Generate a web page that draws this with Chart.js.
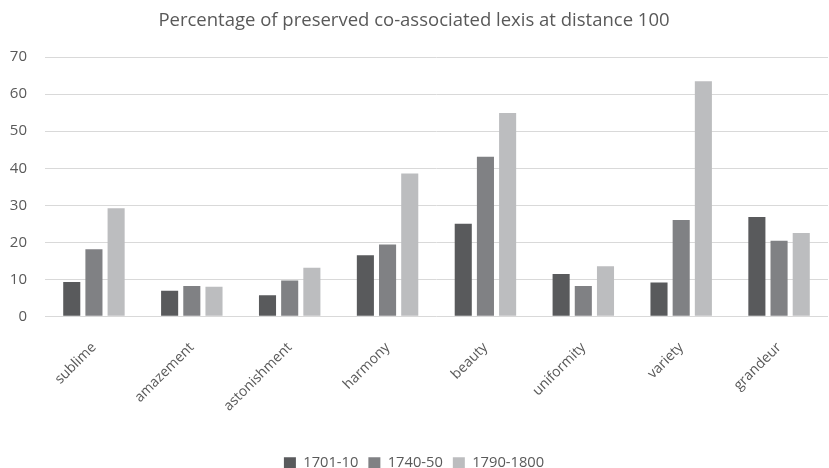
<!DOCTYPE html>
<html>
<head>
<meta charset="utf-8">
<script src="https://cdn.jsdelivr.net/npm/chart.js@4.4.1/dist/chart.umd.min.js"></script>
<style>
  html, body { margin: 0; padding: 0; background: #ffffff; }
  #wrap { width: 829px; height: 468px; position: relative; }
</style>
</head>
<body>
<div id="wrap"><canvas id="chart" width="829" height="468"></canvas></div>
<script>
// Lexical categories along the x axis
const categories = ['sublime', 'amazement', 'astonishment', 'harmony', 'beauty', 'uniformity', 'variety', 'grandeur'];

// Percentage of preserved co-associated lexis, one array per period
const period1701 = [9.3, 6.9, 5.7, 16.5, 25.0, 11.4, 9.1, 26.8];
const period1740 = [18.1, 8.2, 9.7, 19.4, 43.1, 8.2, 26.0, 20.4];
const period1790 = [29.2, 8.0, 13.1, 38.6, 54.9, 13.5, 63.5, 22.5];

const seriesLabels = ['1701-10', '1740-50', '1790-1800'];

// Value axis ticks
const yTicks = [0, 10, 20, 30, 40, 50, 60, 70];

const titleText = 'Percentage of preserved co-associated lexis at distance 100';

const FONT = "'Open Sans', 'Liberation Sans', sans-serif";
const TEXT = '#595959';

const ctx = document.getElementById('chart').getContext('2d');
new Chart(ctx, {
  type: 'bar',
  data: {
    labels: categories,
    datasets: [
      { label: seriesLabels[0], data: period1701, backgroundColor: '#595a5c' },
      { label: seriesLabels[1], data: period1740, backgroundColor: '#808184' },
      { label: seriesLabels[2], data: period1790, backgroundColor: '#bcbdbf' }
    ].map(d => Object.assign(d, {
      borderWidth: 0,
      barPercentage: 0.77,
      categoryPercentage: 0.68
    }))
  },
  options: {
    responsive: false,
    animation: false,
    layout: { padding: { left: 0, right: 1, top: 0, bottom: -12 } },
    plugins: {
      title: {
        display: true,
        text: titleText,
        color: TEXT,
        font: { family: FONT, size: 18.5, weight: 'normal' },
        padding: { top: 10, bottom: 25 }
      },
      legend: {
        position: 'bottom',
        labels: {
          color: TEXT,
          font: { family: FONT, size: 14.7 },
          boxWidth: 12,
          boxHeight: 11,
          padding: 10
        }
      },
      tooltip: { enabled: false }
    },
    scales: {
      x: {
        grid: { display: false, drawTicks: false },
        border: { display: false },
        ticks: {
          color: TEXT,
          font: { family: FONT, size: 14 },
          minRotation: 45,
          maxRotation: 45,
          padding: 23
        },
        afterFit(scale) { scale.height = 129; }
      },
      y: {
        min: 0,
        max: 70,
        grid: { color: '#d9d9d9', lineWidth: 1, drawTicks: false },
        border: { display: false },
        afterBuildTicks(scale) { scale.ticks = yTicks.map(v => ({ value: v })); },
        ticks: {
          color: TEXT,
          font: { family: FONT, size: 15 },
          padding: 18
        },
        afterFit(scale) { scale.width = 45; }
      }
    }
  }
});
</script>
</body>
</html>
